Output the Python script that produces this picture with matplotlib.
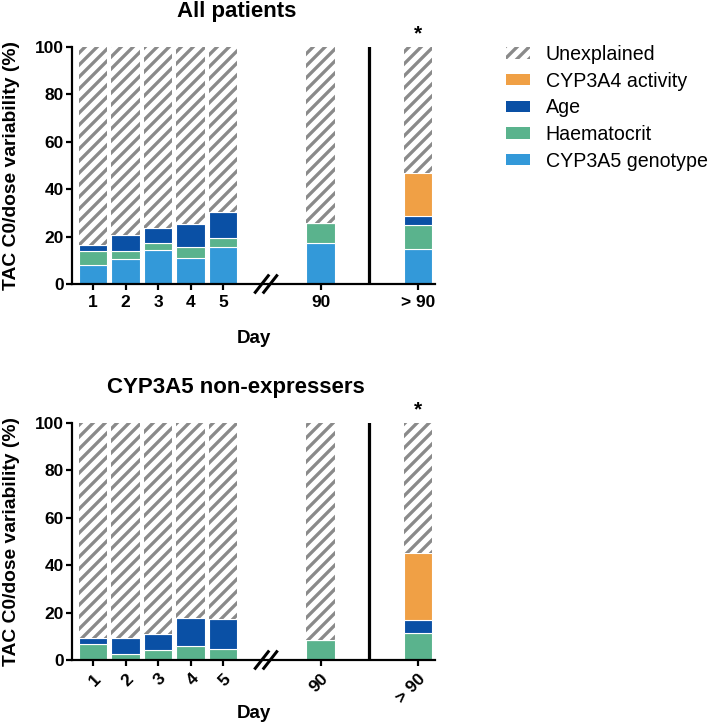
import numpy as np
import matplotlib
matplotlib.use("Agg")
import matplotlib.pyplot as plt
from matplotlib.patches import Patch

plt.rcParams['font.family'] = ['Liberation Sans', 'DejaVu Sans']
plt.rcParams['hatch.linewidth'] = 3.3

# ---- data ----
days = ['1', '2', '3', '4', '5', '90', '> 90']
positions = [1, 2, 3, 4, 5, 8, 11]

# All patients
cyp3a5_all = [8.0, 10.5, 14.3, 10.8, 15.7, 17.2, 14.9]
haem_all = [6.0, 3.3, 2.9, 4.7, 3.8, 8.7, 10.0]
age_all = [2.3, 7.0, 6.6, 9.7, 10.7, 0.0, 4.0]
cyp3a4_all = [0.0, 0.0, 0.0, 0.0, 0.0, 0.0, 17.9]

# CYP3A5 non-expressers
cyp3a5_non = [0.0, 0.0, 0.0, 0.0, 0.0, 0.0, 0.0]
haem_non = [6.8, 2.4, 4.2, 5.9, 4.6, 8.4, 11.3]
age_non = [2.4, 7.0, 6.8, 11.7, 12.7, 0.0, 5.6]
cyp3a4_non = [0.0, 0.0, 0.0, 0.0, 0.0, 0.0, 28.1]

series_names = ['CYP3A5 genotype', 'Haematocrit', 'Age', 'CYP3A4 activity']
colors = {'CYP3A5 genotype': '#3399D9', 'Haematocrit': '#5AB38D',
          'Age': '#0A50A5', 'CYP3A4 activity': '#F0A045'}
hatch_gray = '#8A8A8A'

DPI = 72
W, H = 709, 724
fig = plt.figure(figsize=(W / DPI, H / DPI), dpi=DPI)


def px_axes(left, top, right, bottom):
    return fig.add_axes([left / W, 1 - bottom / H, (right - left) / W, (bottom - top) / H])


def draw(ax, segs, rotate):
    x = np.array(positions, dtype=float)
    bottom = np.zeros(len(x))
    for name, vals in zip(series_names, segs):
        v = np.array(vals)
        ax.bar(x, v, width=0.88, bottom=bottom, color=colors[name],
               edgecolor='white', linewidth=1.1, zorder=1)
        bottom = bottom + v
    unexpl = 100 - bottom
    ax.bar(x, unexpl, width=0.88, bottom=bottom, color='white',
           edgecolor=hatch_gray, linewidth=0, hatch='//', zorder=1)
    ax.set_xlim(0.35, 11.52)
    ax.set_ylim(0, 100)
    for s in ['top', 'right']:
        ax.spines[s].set_visible(False)
    for s in ['left', 'bottom']:
        ax.spines[s].set_linewidth(2.2)
    ax.set_yticks([0, 20, 40, 60, 80, 100])
    ax.set_xticks(positions)
    if rotate:
        ax.set_xticklabels(days, rotation=45, ha='right', va='top',
                           rotation_mode='anchor')
    else:
        ax.set_xticklabels(days)
    ax.tick_params(axis='both', direction='out', length=5.6, width=2.2,
                   labelsize=17.4, pad=2.5)
    ax.tick_params(axis='x', pad=5.6)
    for lab in ax.get_xticklabels() + ax.get_yticklabels():
        lab.set_fontweight('bold')
    ax.set_ylabel('TAC C0/dose variability (%)', fontsize=19.2, fontweight='bold')
    ax.yaxis.set_label_coords(-0.143, 0.5)
    ax.set_xlabel('Day', fontsize=18.8, fontweight='bold')
    # separator line between 90 and >90
    ax.axvline(9.5, color='black', linewidth=3.2, zorder=3)
    # axis break marks
    tr = ax.get_xaxis_transform()
    for dx in (-0.13, 0.13):
        ax.plot([6.32 + dx - 0.2, 6.32 + dx + 0.2], [-0.035, 0.035],
                transform=tr, color='black', linewidth=3.0, clip_on=False, zorder=4)
    ax.text(11, 105.5, '*', ha='center', va='center', fontsize=21,
            fontweight='bold', clip_on=False)


ax1 = px_axes(72, 47, 435, 284)
draw(ax1, [cyp3a5_all, haem_all, age_all, cyp3a4_all], rotate=False)
ax1.xaxis.set_label_coords(0.5, -0.195)

ax2 = px_axes(72, 423, 435, 660)
draw(ax2, [cyp3a5_non, haem_non, age_non, cyp3a4_non], rotate=True)
ax2.xaxis.set_label_coords(0.5, -0.19)

fig.text(237 / W, 1 - 12 / H, 'All patients', ha='center', va='center',
         fontsize=22.2, fontweight='bold')
fig.text(236 / W, 1 - 388 / H, 'CYP3A5 non-expressers', ha='center', va='center',
         fontsize=22.2, fontweight='bold')

handles = [Patch(facecolor='white', edgecolor=hatch_gray, linewidth=0, hatch='//', label='Unexplained')]
for name in ['CYP3A4 activity', 'Age', 'Haematocrit', 'CYP3A5 genotype']:
    handles.append(Patch(facecolor=colors[name], edgecolor='none', label=name))
fig.legend(handles=handles, loc='upper left', bbox_to_anchor=(506 / W, 1 - 45 / H),
           frameon=False, fontsize=19.6, handlelength=1.22, handleheight=0.5,
           handletextpad=0.8, labelspacing=0.39, borderpad=0, borderaxespad=0)

fig.savefig('out.png', dpi=DPI)
